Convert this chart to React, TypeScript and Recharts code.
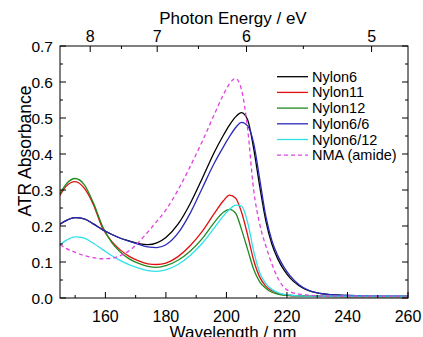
import { LineChart, Line, XAxis, YAxis } from "recharts";

const wavelength = [145, 147, 150, 153, 156, 159, 162, 165, 168, 171, 174, 177, 180, 184, 188, 192, 196, 199, 201, 203, 205, 207, 209, 211, 213, 215, 217, 219, 221, 224, 227, 230, 235, 240, 250, 260];

const nylon6 = [0.205, 0.215, 0.223, 0.22, 0.206, 0.19, 0.177, 0.166, 0.158, 0.151, 0.148, 0.153, 0.168, 0.205, 0.262, 0.332, 0.405, 0.452, 0.48, 0.503, 0.515, 0.495, 0.415, 0.31, 0.215, 0.15, 0.108, 0.078, 0.056, 0.034, 0.021, 0.014, 0.009, 0.007, 0.005, 0.005];
const nylon11 = [0.285, 0.31, 0.323, 0.305, 0.26, 0.195, 0.158, 0.133, 0.115, 0.103, 0.095, 0.093, 0.097, 0.115, 0.145, 0.185, 0.235, 0.27, 0.286, 0.278, 0.238, 0.175, 0.105, 0.058, 0.033, 0.02, 0.013, 0.009, 0.007, 0.006, 0.005, 0.005, 0.005, 0.004, 0.004, 0.004];
const nylon12 = [0.29, 0.316, 0.332, 0.315, 0.265, 0.2, 0.155, 0.127, 0.108, 0.096, 0.088, 0.085, 0.09, 0.105, 0.13, 0.165, 0.21, 0.238, 0.246, 0.236, 0.19, 0.135, 0.08, 0.045, 0.027, 0.016, 0.011, 0.008, 0.007, 0.006, 0.005, 0.005, 0.004, 0.004, 0.004, 0.004];
const nylon66 = [0.205, 0.215, 0.223, 0.22, 0.206, 0.19, 0.177, 0.166, 0.157, 0.149, 0.142, 0.14, 0.148, 0.18, 0.235, 0.305, 0.375, 0.42, 0.448, 0.473, 0.488, 0.478, 0.43, 0.33, 0.228, 0.16, 0.117, 0.086, 0.062, 0.037, 0.022, 0.014, 0.009, 0.007, 0.005, 0.005];
const nylon612 = [0.148, 0.16, 0.17, 0.166, 0.152, 0.135, 0.118, 0.104, 0.092, 0.083, 0.076, 0.074, 0.078, 0.093, 0.118, 0.152, 0.195, 0.228, 0.246, 0.258, 0.255, 0.21, 0.13, 0.07, 0.04, 0.024, 0.015, 0.01, 0.008, 0.006, 0.005, 0.005, 0.005, 0.005, 0.005, 0.005];
const nma = [0.148, 0.138, 0.127, 0.118, 0.112, 0.109, 0.11, 0.118, 0.132, 0.155, 0.183, 0.213, 0.245, 0.3, 0.365, 0.435, 0.51, 0.565, 0.595, 0.61, 0.578, 0.47, 0.3, 0.205, 0.145, 0.095, 0.055, 0.03, 0.018, 0.011, 0.008, 0.006, 0.005, 0.005, 0.005, 0.005];

const xTicks = [150, 160, 170, 180, 190, 200, 210, 220, 230, 240, 250, 260];
const xMajor = [160, 180, 200, 220, 240, 260];
const yTicks = [0, 0.05, 0.1, 0.15, 0.2, 0.25, 0.3, 0.35, 0.4, 0.45, 0.5, 0.55, 0.6, 0.65, 0.7];
const energyTicks = [8, 7.5, 7, 6.5, 6, 5.5, 5];
const HC = 1239.84;

const series = [
  { key: "nylon6", name: "Nylon6", color: "#000000", dash: undefined },
  { key: "nylon11", name: "Nylon11", color: "#e01010", dash: undefined },
  { key: "nylon12", name: "Nylon12", color: "#208a20", dash: undefined },
  { key: "nylon66", name: "Nylon6/6", color: "#2a2ab8", dash: undefined },
  { key: "nylon612", name: "Nylon6/12", color: "#30e0e8", dash: undefined },
  { key: "nma", name: "NMA (amide)", color: "#e040e0", dash: "4 3" },
];

const data = wavelength.map((w, i) => ({
  w,
  nylon6: nylon6[i],
  nylon11: nylon11[i],
  nylon12: nylon12[i],
  nylon66: nylon66[i],
  nylon612: nylon612[i],
  nma: nma[i],
}));

const font = "'Liberation Sans', Arial, sans-serif";

// plot frame, in page pixels
const LEFT = 60;
const RIGHT = 408;
const TOP = 46;
const BOTTOM = 298;

const isMajorY = (v: number) => Math.abs(v * 10 - Math.round(v * 10)) < 1e-6;

const BottomTick = (props: any) => {
  const { x, payload } = props;
  const y = BOTTOM;
  const major = xMajor.includes(payload.value);
  return (
    <g>
      <line x1={x} x2={x} y1={y} y2={y - (major ? 6 : 3)} stroke="#000" />
      {major && (
        <text x={x} y={y + 24} textAnchor="middle" fontSize={16} fontFamily={font} fill="#000">
          {payload.value}
        </text>
      )}
    </g>
  );
};

const TopTick = (props: any) => {
  const { x, payload } = props;
  const y = TOP;
  const e = Math.round((HC / payload.value) * 2) / 2;
  const major = Number.isInteger(e);
  return (
    <g>
      <line x1={x} x2={x} y1={y} y2={y + (major ? 6 : 3)} stroke="#000" />
      {major && (
        <text x={x} y={y - 4} textAnchor="middle" fontSize={16} fontFamily={font} fill="#000">
          {e}
        </text>
      )}
    </g>
  );
};

const LeftTick = (props: any) => {
  const { y, payload } = props;
  const x = LEFT;
  const major = isMajorY(payload.value);
  return (
    <g>
      <line x1={x} x2={x + (major ? 6 : 3)} y1={y} y2={y} stroke="#000" />
      {major && (
        <text x={x - 7} y={y + 5.5} textAnchor="end" fontSize={15.5} fontFamily={font} fill="#000">
          {payload.value.toFixed(1)}
        </text>
      )}
    </g>
  );
};

const RightTick = (props: any) => {
  const { y, payload } = props;
  const x = RIGHT;
  const major = isMajorY(payload.value);
  return <line x1={x} x2={x - (major ? 6 : 3)} y1={y} y2={y} stroke="#000" />;
};

export default function App() {
  return (
    <div style={{ position: "absolute", left: 0, top: 0, width: 423, height: 337, background: "#fff", overflow: "hidden" }}>
      <LineChart width={423} height={337} data={data} margin={{ top: TOP - 1, right: 423 - RIGHT - 1, bottom: 337 - BOTTOM - 1, left: LEFT - 1 }}>
        <XAxis
          dataKey="w"
          type="number"
          domain={[145, 260]}
          allowDataOverflow
          ticks={xTicks}
          interval={0}
          height={1}
          tickSize={0}
          tickMargin={0}
          tick={BottomTick}
          axisLine={false}
        />
        <XAxis
          xAxisId="top"
          dataKey="w"
          orientation="top"
          type="number"
          domain={[145, 260]}
          allowDataOverflow
          ticks={energyTicks.map((e) => HC / e)}
          interval={0}
          height={1}
          tickSize={0}
          tickMargin={0}
          tick={TopTick}
          axisLine={false}
        />
        <YAxis
          type="number"
          domain={[0, 0.7]}
          allowDataOverflow
          ticks={yTicks}
          interval={0}
          width={1}
          tickSize={0}
          tickMargin={0}
          tick={LeftTick}
          axisLine={false}
        />
        <YAxis
          yAxisId="right"
          orientation="right"
          type="number"
          domain={[0, 0.7]}
          allowDataOverflow
          ticks={yTicks}
          interval={0}
          width={1}
          tickSize={0}
          tickMargin={0}
          tick={RightTick}
          axisLine={false}
        />
        {series.map((s) => (
          <Line
            key={s.key}
            dataKey={s.key}
            name={s.name}
            type="monotone"
            stroke={s.color}
            strokeWidth={1.3}
            strokeDasharray={s.dash}
            dot={false}
            isAnimationActive={false}
          />
        ))}
        {/* invisible copy bound to the energy / right axes so both get a scale */}
        <Line
          xAxisId="top"
          yAxisId="right"
          dataKey="nma"
          stroke="none"
          dot={false}
          legendType="none"
          isAnimationActive={false}
        />
      </LineChart>
      <svg width={423} height={337} style={{ position: "absolute", left: 0, top: 0, pointerEvents: "none" }}>
        <rect x={LEFT} y={TOP} width={RIGHT - LEFT} height={BOTTOM - TOP} fill="none" stroke="#000" />
        <text x={233} y={24} textAnchor="middle" fontSize={17} fontFamily={font} fill="#000">
          Photon Energy / eV
        </text>
        <text x={233} y={338} textAnchor="middle" fontSize={17} fontFamily={font} fill="#000">
          Wavelength / nm
        </text>
        <text transform="translate(31,151) rotate(-90)" textAnchor="middle" fontSize={17.5} fontFamily={font} fill="#000">
          ATR Absorbance
        </text>
        {series.map((s, i) => {
          const cy = 76.7 + i * 15.7;
          return (
            <g key={s.key}>
              <line x1={277} x2={308} y1={cy} y2={cy} stroke={s.color} strokeWidth={1.3} strokeDasharray={s.dash} />
              <text x={312} y={cy + 5} fontSize={14.5} fontFamily={font} fill="#000">
                {s.name}
              </text>
            </g>
          );
        })}
      </svg>
    </div>
  );
}
